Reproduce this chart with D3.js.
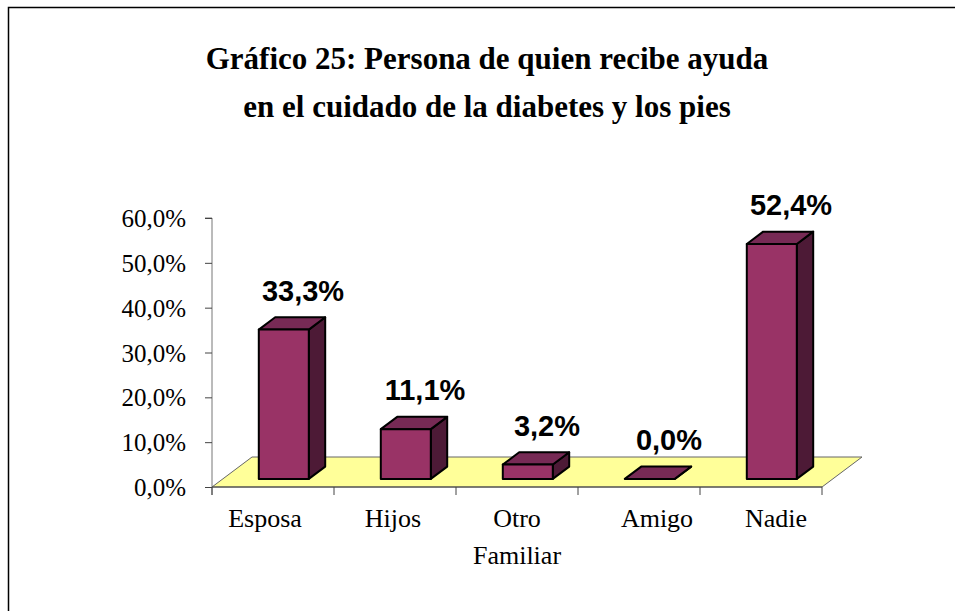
<!DOCTYPE html>
<html>
<head>
<meta charset="utf-8">
<script src="https://cdn.jsdelivr.net/npm/d3@7"></script>
<style>
  body { margin: 0; background: #fff; }
  svg { display: block; }
  .serif { font-family: "Times New Roman", "Liberation Serif", serif; }
  .sans { font-family: Arial, "Liberation Sans", sans-serif; }
</style>
</head>
<body>
<div class="canvas"></div>
<script>
// data
const categories = ['Esposa', 'Hijos', 'Otro Familiar', 'Amigo', 'Nadie'];
const values = [0.333, 0.111, 0.032, 0.0, 0.524];
const yTicks = [0, 0.1, 0.2, 0.3, 0.4, 0.5, 0.6];
const titleLines = ['Gráfico 25: Persona de quien recibe ayuda', 'en el cuidado de la diabetes y los pies'];

const width = 955, height = 611;
const plot = { left: 212, right: 822, top: 218, bottom: 487 };
const depth = { dx: 40, dy: -30 };       // floor depth
const front = 0.27, back = 0.68;          // where the bars sit in the floor depth
const barW = 50;
// the category labels are not exactly centred under their slots
const labelShift = [-8, -2, 0, 18, 15];

const esLocale = d3.formatLocale({ decimal: ',', thousands: '.', grouping: [3], currency: ['', '€'] });
const pct = esLocale.format('.1%');

const svg = d3.select('.canvas')
  .append('svg')
  .attr('width', width)
  .attr('height', height);

// outer frame
svg.append('path')
  .attr('d', `M8.5,${height}V7.5H${width}`)
  .attr('fill', 'none')
  .attr('stroke', '#000')
  .attr('stroke-width', 1.5);

// title
svg.append('text')
  .attr('class', 'serif')
  .attr('text-anchor', 'middle')
  .attr('font-weight', 'bold')
  .attr('font-size', 31)
  .selectAll('tspan')
  .data(titleLines)
  .join('tspan')
  .attr('x', 487)
  .attr('y', (d, i) => 69 + i * 48)
  .text(d => d);

const xScale = d3.scaleBand()
  .domain(categories)
  .range([plot.left, plot.right])
  .padding(0);

const yScale = d3.scaleLinear()
  .domain([0, 0.6])
  .range([plot.bottom, plot.top]);

// floor
const y0 = yScale(0);
svg.append('polygon')
  .attr('points', [
    [plot.left, y0],
    [plot.left + depth.dx, y0 + depth.dy],
    [plot.right + depth.dx, y0 + depth.dy],
    [plot.right, y0]
  ].join(' '))
  .attr('fill', '#ffff99')
  .attr('stroke', '#666')
  .attr('stroke-width', 1);

// y axis
const yAxis = svg.append('g')
  .attr('transform', `translate(${plot.left},0)`)
  .call(d3.axisLeft(yScale).tickValues(yTicks).tickFormat(pct).tickSize(7).tickPadding(19));
yAxis.select('.domain').attr('stroke', '#777').attr('d', `M-7,${plot.top}H0V${plot.bottom + 8}`);
yAxis.selectAll('.tick line').attr('stroke', '#444');
yAxis.selectAll('.tick text')
  .attr('class', 'serif')
  .attr('font-size', 25)
  .attr('fill', '#000')
  .attr('dy', '0.34em');

// x axis
const xAxis = svg.append('g');
xAxis.append('line')
  .attr('x1', plot.left).attr('x2', plot.right)
  .attr('y1', y0).attr('y2', y0)
  .attr('stroke', '#444');
const bounds = categories.map(c => xScale(c)).concat([plot.right]);
xAxis.selectAll('.xtick')
  .data(bounds)
  .join('line')
  .attr('class', 'xtick')
  .attr('x1', d => d).attr('x2', d => d)
  .attr('y1', y0).attr('y2', y0 + 8)
  .attr('stroke', '#444');

xAxis.selectAll('.xlabel')
  .data(categories)
  .join('text')
  .attr('class', 'xlabel serif')
  .attr('text-anchor', 'middle')
  .attr('font-size', 26)
  .selectAll('tspan')
  .data((d, i) => d.split(' ').map(w => ({ w, c: d, i })))
  .join('tspan')
  .attr('x', d => xScale(d.c) + xScale.bandwidth() / 2 + labelShift[d.i])
  .attr('y', (d, i) => 527 + i * 37)
  .text(d => d.w);

// bars
const fx = depth.dx * front, fy = depth.dy * front;
const bx = depth.dx * (back - front), by = depth.dy * (back - front);

const bars = svg.append('g')
  .selectAll('g')
  .data(categories.map((c, i) => ({ c, v: values[i] })))
  .join('g')
  .attr('stroke', '#000')
  .attr('stroke-width', 2)
  .attr('stroke-linejoin', 'round');

bars.each(function (d) {
  const g = d3.select(this);
  const x1 = xScale(d.c) + (xScale.bandwidth() - barW) / 2 + fx;
  const x2 = x1 + barW;
  const yb = y0 + fy;
  const yt = yScale(d.v) + fy;
  // side
  g.append('polygon')
    .attr('points', [[x2, yt], [x2 + bx, yt + by], [x2 + bx, yb + by], [x2, yb]].join(' '))
    .attr('fill', '#4d1a36');
  // top
  g.append('polygon')
    .attr('points', [[x1, yt], [x1 + bx, yt + by], [x2 + bx, yt + by], [x2, yt]].join(' '))
    .attr('fill', '#772a55');
  // front
  g.append('rect')
    .attr('x', x1).attr('y', yt)
    .attr('width', barW).attr('height', yb - yt)
    .attr('fill', '#993366');
});

// value labels
svg.append('g')
  .selectAll('text')
  .data(categories.map((c, i) => ({ c, v: values[i] })))
  .join('text')
  .attr('class', 'sans')
  .attr('text-anchor', 'middle')
  .attr('font-weight', 'bold')
  .attr('font-size', 29)
  .attr('x', d => xScale(d.c) + xScale.bandwidth() / 2 + 30)
  .attr('y', d => yScale(d.v) + fy - 29)
  .text(d => pct(d.v));
</script>
</body>
</html>
